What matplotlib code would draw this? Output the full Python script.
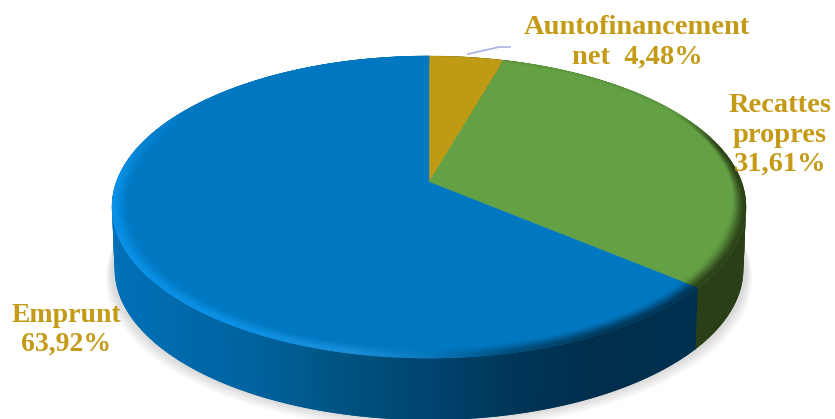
import numpy as np
import matplotlib
matplotlib.use('Agg')
import matplotlib.pyplot as plt
from matplotlib.collections import PolyCollection
from matplotlib.colors import to_rgb

categories = ['Auntofinancement', 'Recattes propres', 'Emprunt']
values = [4.48, 31.61, 63.92]
labels = ['Auntofinancement\nnet  4,48%', 'Recattes\npropres\n31,61%', 'Emprunt\n63,92%']
colors = ['#bf9a14', '#64a044', '#0078c1']
text_color = '#c49a16'

# pixel geometry of the tilted disc
cx, cy = 429, 182
A, B, k = 146.9, 312.6, 0.1656
depth = 62

def proj(t, r=1.0):
    u = r*np.sin(t)
    v = r*np.cos(t)
    d = 1 + k*v
    return cx + B*u/d, cy - A*v/d

def lerp_x(x, xs, cols):
    c = np.array([to_rgb(h) for h in cols])
    return np.array([np.interp(x, xs, c[:, i]) for i in range(3)]).T

fig = plt.figure(figsize=(8.35, 4.19), dpi=100)
ax = fig.add_axes([0, 0, 1, 1])
ax.set_xlim(0, 835)
ax.set_ylim(419, 0)
ax.axis('off')

edges = np.cumsum([0] + values)/sum(values)*2*np.pi

# soft shadow under the disc
tt = np.linspace(0, 2*np.pi, 300)
xs, ys = proj(tt)
for grow in np.linspace(12, 1, 12):
    ax.fill(cx + (xs - cx)*(1 + grow*0.55/320), ys + depth + grow*0.85, color='#000000', alpha=0.012, lw=0, zorder=1)

# side wall, each strip runs over the start of the next so no seams show
side_x = [112, 250, 350, 430, 520, 600, 692, 760]
side_c = ['#0070b8', '#00639f', '#00527f', '#00436f', '#003557', '#002e4c', '#003050', '#003050']
polys, cols = [], []
tside = np.linspace(0, 2*np.pi, 361)
step = tside[1] - tside[0]
for t0 in tside[:-1]:
    t1 = t0 + 2*step
    x0, y0 = proj(t0)
    x1, y1 = proj(t1)
    polys.append([(x0, y0), (x1, y1), (cx + (x1 - cx)*0.992, y1 + depth), (cx + (x0 - cx)*0.992, y0 + depth)])
    tm = t0 + step/2
    if tm < edges[2]:
        cols.append(to_rgb('#2a3f17'))
    else:
        cols.append(lerp_x(proj(tm)[0], side_x, side_c))
ax.add_collection(PolyCollection(polys, facecolors=cols, edgecolors='none', linewidths=0, zorder=2))
# seam between green and blue wall stays sharp
x_s, y_s = proj(edges[2])
ax.plot([x_s, cx + (x_s - cx)*0.992], [y_s, y_s + depth], color='#003050', lw=0.6, zorder=2)

# flat top face
for i in range(3):
    t = np.linspace(edges[i], edges[i + 1], 300)
    x, y = proj(t)
    ax.fill(np.r_[cx, x], np.r_[cy, y], color=colors[i], lw=0.3, zorder=3)

# bevel along the rim
rim_x = [112, 250, 350, 430, 500, 600, 692, 760]
rim_c = ['#0a92ea', '#0f92e6', '#1c92dc', '#0a78bd', '#00507e', '#003656', '#003252', '#003252']
rings = np.linspace(0.945, 1.0, 11)
polys, cols = [], []
tb = np.linspace(0, 2*np.pi, 721)
for j in range(len(rings) - 1):
    w = (j + 0.5)/(len(rings) - 1)
    w = w*w*(3 - 2*w)
    for t0, t1 in zip(tb[:-1], tb[1:]):
        tm = (t0 + t1)/2
        x0, y0 = proj(t0, rings[j])
        x1, y1 = proj(t1, rings[j])
        x2, y2 = proj(t1, rings[j + 1])
        x3, y3 = proj(t0, rings[j + 1])
        xm = (x0 + x1)/2
        if tm < edges[1]:
            continue
        if tm < edges[2]:
            base = np.array(to_rgb(colors[1]))
            rim = np.array(to_rgb('#2a3f17'))
            # dark band gets thin towards the top of the disc
            a = np.clip((tm - np.radians(60))/np.radians(50), 0, 1)
            ww = np.clip((w - (1 - a)*0.8), 0, 1)/(1 - (1 - a)*0.8)
            ww = ww*min(1, a*3 + 0.1)
        else:
            base = np.array(to_rgb(colors[2]))
            rim = lerp_x(xm, rim_x, rim_c)
            a = np.clip((np.radians(305) - tm)/np.radians(35), 0, 1)
            ww = w*a
        c = base*(1 - ww) + rim*ww
        polys.append([(x0, y0), (x1, y1), (x2, y2), (x3, y3)])
        cols.append(c)
ax.add_collection(PolyCollection(polys, facecolors=cols, edgecolors=cols, linewidths=0.3, zorder=4))

# leader line of the small slice
ax.plot([468, 499, 510], [54, 47, 47], color='#aab2e4', lw=1.2, zorder=5)

font = dict(family='Liberation Serif', fontweight='bold', color=text_color, ha='center', va='center', zorder=6, linespacing=1.22)
ax.text(637, 42.5, labels[0], fontsize=20.5, **font)
ax.text(780, 135, labels[1], fontsize=20.5, **font)
ax.text(66, 330, labels[2], fontsize=20, **font)

fig.savefig('out.png', dpi=100)
